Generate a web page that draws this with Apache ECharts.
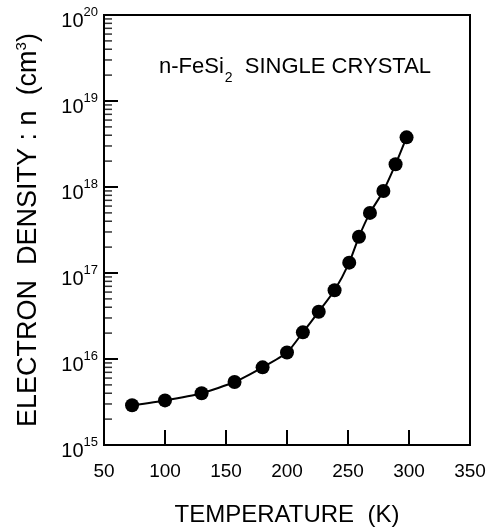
<!DOCTYPE html>
<html>
<head>
<meta charset="utf-8">
<script src="https://cdn.jsdelivr.net/npm/echarts@6/dist/echarts.min.js"></script>
<style>
  html, body { margin: 0; padding: 0; background: #fff; }
  #main { width: 500px; height: 529px; }
</style>
</head>
<body>
<div id="main"></div>
<script>
var chart = echarts.init(document.getElementById('main'));

// temperature (K) and electron density (cm^-3)
var temperature = [73, 100, 130, 157, 180, 200, 213, 226, 239, 251, 259, 268, 279, 289, 298];
var density = [2.9e15, 3.3e15, 4.0e15, 5.4e15, 8.0e15, 1.19e16, 2.04e16, 3.55e16, 6.3e16,
               1.32e17, 2.64e17, 5.0e17, 9.0e17, 1.84e18, 3.78e18];

var xMin = 50, xMax = 350, xStep = 50;
var yMin = 1e15, yMax = 1e20;
var decades = [15, 16, 17, 18, 19];      // minor ticks at 2..9 x 10^d
var minorMult = [2, 3, 4, 5, 6, 7, 8, 9];

var font = "'Liberation Sans', Arial, sans-serif";

var minorTicks = [];
decades.forEach(function (d) {
    minorMult.forEach(function (m) {
        minorTicks.push([xMin, m * Math.pow(10, d)]);
    });
});

var points = temperature.map(function (t, i) { return [t, density[i]]; });

var option = {
    animation: false,
    backgroundColor: '#fff',
    title: {
        text: '{a|n-FeSi}{s|2}{a|  SINGLE CRYSTAL}',
        left: 154,
        top: 50,
        textStyle: {
            fontWeight: 'normal',
            rich: {
                a: { fontFamily: font, fontSize: 22, fontWeight: 'normal', color: '#000', lineHeight: 24 },
                s: { fontFamily: font, fontSize: 14, fontWeight: 'normal', color: '#000', lineHeight: 24,
                     padding: [22, 0, 0, 1] }
            }
        }
    },
    grid: {
        left: 104,
        right: 30,
        top: 15,
        bottom: 84,
        outerBoundsMode: 'none',
        containLabel: false,
        show: true,
        borderColor: '#000',
        borderWidth: 2
    },
    xAxis: {
        type: 'value',
        min: xMin,
        max: xMax,
        interval: xStep,
        name: 'TEMPERATURE  (K)',
        nameLocation: 'middle',
        nameGap: 58,
        nameTextStyle: { fontFamily: font, fontSize: 24, color: '#000' },
        axisLine: { lineStyle: { color: '#000', width: 2 } },
        axisTick: { inside: true, length: 15, lineStyle: { color: '#000', width: 2 } },
        axisLabel: { fontFamily: font, fontSize: 19, color: '#000', margin: 17 },
        splitLine: { show: false }
    },
    yAxis: {
        type: 'log',
        logBase: 10,
        min: yMin,
        max: yMax,
        name: '{a|ELECTRON  DENSITY : n  (cm}{s|3}{a|)}',
        nameLocation: 'middle',
        nameGap: 60,
        nameTextStyle: {
            rich: {
                a: { fontFamily: font, fontSize: 27, color: '#000', lineHeight: 30 },
                s: { fontFamily: font, fontSize: 15, color: '#000', verticalAlign: 'top', padding: [0, 0, 12, 0] }
            }
        },
        axisLine: { lineStyle: { color: '#000', width: 2 } },
        axisTick: { inside: true, length: 14, lineStyle: { color: '#000', width: 2 } },
        axisLabel: {
            margin: 6,
            formatter: function (v) {
                var e = Math.round(Math.log(v) / Math.LN10);
                return '{a|10}{e|' + e + '}';
            },
            rich: {
                a: { fontFamily: font, fontSize: 20, color: '#000', lineHeight: 22, padding: [12, 0, 0, 0] },
                e: { fontFamily: font, fontSize: 13, color: '#000', padding: [0, 0, 5, 0] }
            }
        },
        splitLine: { show: false }
    },
    series: [
        {
            // 2..9 minor ticks along the left axis
            type: 'scatter',
            silent: true,
            clip: false,
            data: minorTicks,
            symbol: 'rect',
            symbolSize: [8, 1.5],
            symbolOffset: [4, 0],
            itemStyle: { color: '#000' }
        },
        {
            type: 'line',
            data: points,
            symbol: 'circle',
            symbolSize: 14,
            smooth: 0.2,
            lineStyle: { color: '#000', width: 2 },
            itemStyle: { color: '#000' }
        }
    ]
};

chart.setOption(option);
</script>
</body>
</html>
